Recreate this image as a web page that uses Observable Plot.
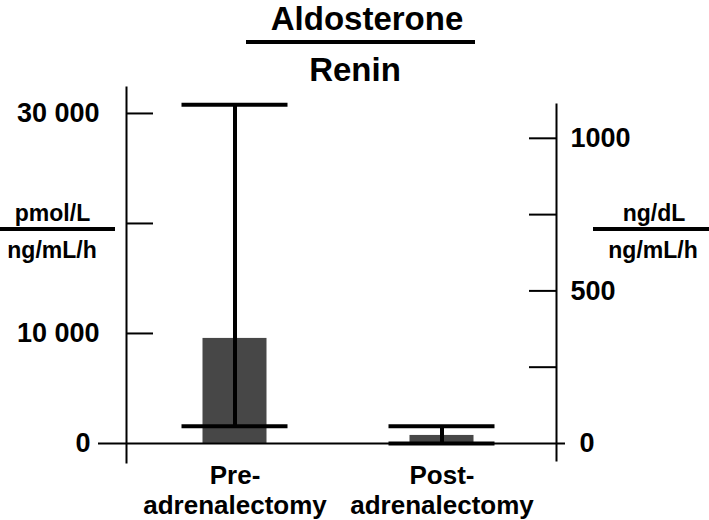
<!DOCTYPE html>
<html>
<head>
<meta charset="utf-8">
<script src="https://cdn.jsdelivr.net/npm/d3@7"></script>
<script src="https://cdn.jsdelivr.net/npm/@observablehq/plot@0.6"></script>
<style>
  html, body { margin: 0; padding: 0; background: #fff; }
  #wrap { position: relative; width: 709px; height: 520px; overflow: hidden; font-family: 'Liberation Sans', Arial, Helvetica, sans-serif; font-weight: bold; color: #000; }
  #chart { position: absolute; left: 0; top: 0; }
  .lbl { position: absolute; white-space: nowrap; transform: translateX(-50%); }
  .bar { position: absolute; background: #000; }
</style>
</head>
<body>
<div id="wrap">
  <div id="chart"></div>
  <div class="lbl" id="t1" style="left:367px; top:0px; font-size:33px; line-height:normal;"></div>
  <div class="bar" style="left:246px; top:40px; width:229px; height:4px;"></div>
  <div class="lbl" id="t2" style="left:355px; top:51px; font-size:33px; line-height:normal;"></div>
  <div class="lbl" id="ul1" style="left:52.5px; top:202.2px; font-size:23px; line-height:23px;"></div>
  <div class="bar" style="left:0px; top:227px; width:115px; height:4px;"></div>
  <div class="lbl" id="ul2" style="left:52px; top:238.5px; font-size:23px; line-height:23px;"></div>
  <div class="lbl" id="ur1" style="left:654px; top:201.5px; font-size:23px; line-height:23px;"></div>
  <div class="bar" style="left:593px; top:227px; width:116px; height:4px;"></div>
  <div class="lbl" id="ur2" style="left:653px; top:238.5px; font-size:23px; line-height:23px;"></div>
</div>
<script>
// ---- data ----
const titleTop = "Aldosterone";
const titleBottom = "Renin";
const leftUnitTop = "pmol/L";
const leftUnitBottom = "ng/mL/h";
const rightUnitTop = "ng/dL";
const rightUnitBottom = "ng/mL/h";

const groups = ["Pre-adrenalectomy", "Post-adrenalectomy"];
const xLabels = ["Pre-\nadrenalectomy", "Post-\nadrenalectomy"];
const means = [9550, 730];      // pmol/L per ng/mL/h
const upper = [30800, 1570];
const lower = [1570, 0];

const leftTicks = [0, 10000, 20000, 30000];
const leftTickLabels = ["0", "10 000", "", "30 000"];
const rightTicks = [0, 250, 500, 750, 1000];   // ng/dL per ng/mL/h
const rightTickLabels = ["0", "", "500", "", "1000"];
const PMOL_PER_NGDL = 27.74;

// ---- build ----
document.getElementById("t1").textContent = titleTop;
document.getElementById("t2").textContent = titleBottom;
document.getElementById("ul1").textContent = leftUnitTop;
document.getElementById("ul2").textContent = leftUnitBottom;
document.getElementById("ur1").textContent = rightUnitTop;
document.getElementById("ur2").textContent = rightUnitBottom;

const data = groups.map((g, i) => ({group: g, mean: means[i], hi: upper[i], lo: lower[i]}));
const leftFmt = new Map(leftTicks.map((v, i) => [v, leftTickLabels[i]]));
const rightPos = rightTicks.map(v => v * PMOL_PER_NGDL);
const rightFmt = new Map(rightPos.map((p, i) => [p, rightTickLabels[i]]));
const xFmt = new Map(groups.map((g, i) => [g, xLabels[i]]));

const font = "'Liberation Sans', Arial, Helvetica, sans-serif";
const txt = {fontSize: 27, fontWeight: "bold", fill: "black", label: null};

const chart = Plot.plot({
  width: 709,
  height: 520,
  marginTop: 87,
  marginBottom: 58,
  marginLeft: 126,
  marginRight: 153,
  style: {fontFamily: font, background: "white", color: "black", overflow: "visible"},
  x: {domain: groups, padding: 0.077, align: 0.406},
  y: {domain: [-1730, 32360]},
  marks: [
    Plot.barY(data, {x: "group", y: "mean", fill: "#474747", insetLeft: 63.5, insetRight: 63.5}),
    Plot.ruleY([0], {stroke: "black", strokeWidth: 2, insetLeft: -28, insetRight: -9}),
    Plot.ruleX(data, {x: "group", y1: "lo", y2: "hi", stroke: "black", strokeWidth: 4}),
    Plot.tickY(data, {x: "group", y: "hi", stroke: "black", strokeWidth: 4, inset: 42.5}),
    Plot.tickY(data, {x: "group", y: "lo", stroke: "black", strokeWidth: 4, inset: 42.5}),
    // axis lines
    Plot.frame({anchor: "left", stroke: "black", strokeWidth: 2}),
    Plot.frame({anchor: "right", stroke: "black", strokeWidth: 2, insetTop: 17, insetBottom: 2}),
    // inward ticks
    Plot.axisY(leftTicks.filter(v => v !== 0), {anchor: "left", tickSize: -27, tickFormat: () => "", stroke: "black", strokeWidth: 2, label: null}),
    Plot.axisY(rightPos.filter(v => v !== 0), {anchor: "right", tickSize: -28, tickFormat: () => "", stroke: "black", strokeWidth: 2, label: null}),
    // tick labels
    Plot.axisY(leftTicks.filter(v => v !== 0), {anchor: "left", tickSize: 0, tickPadding: 27, tickFormat: d => leftFmt.get(d), ...txt}),
    Plot.axisY([0], {anchor: "left", tickSize: 0, tickPadding: 36, tickFormat: d => leftFmt.get(d), ...txt}),
    Plot.axisY(rightPos.filter(v => v !== 0), {anchor: "right", tickSize: 0, tickPadding: 14, tickFormat: d => rightFmt.get(d), ...txt}),
    Plot.axisY([0], {anchor: "right", tickSize: 0, tickPadding: 23, tickFormat: d => rightFmt.get(d), ...txt}),
    Plot.axisX(groups, {anchor: "bottom", tickSize: 0, tickPadding: 1, tickFormat: d => xFmt.get(d), fontSize: 26, fontWeight: "bold", lineHeight: 1.13, fill: "black", label: null})
  ]
});
document.getElementById("chart").appendChild(chart);
</script>
</body>
</html>
